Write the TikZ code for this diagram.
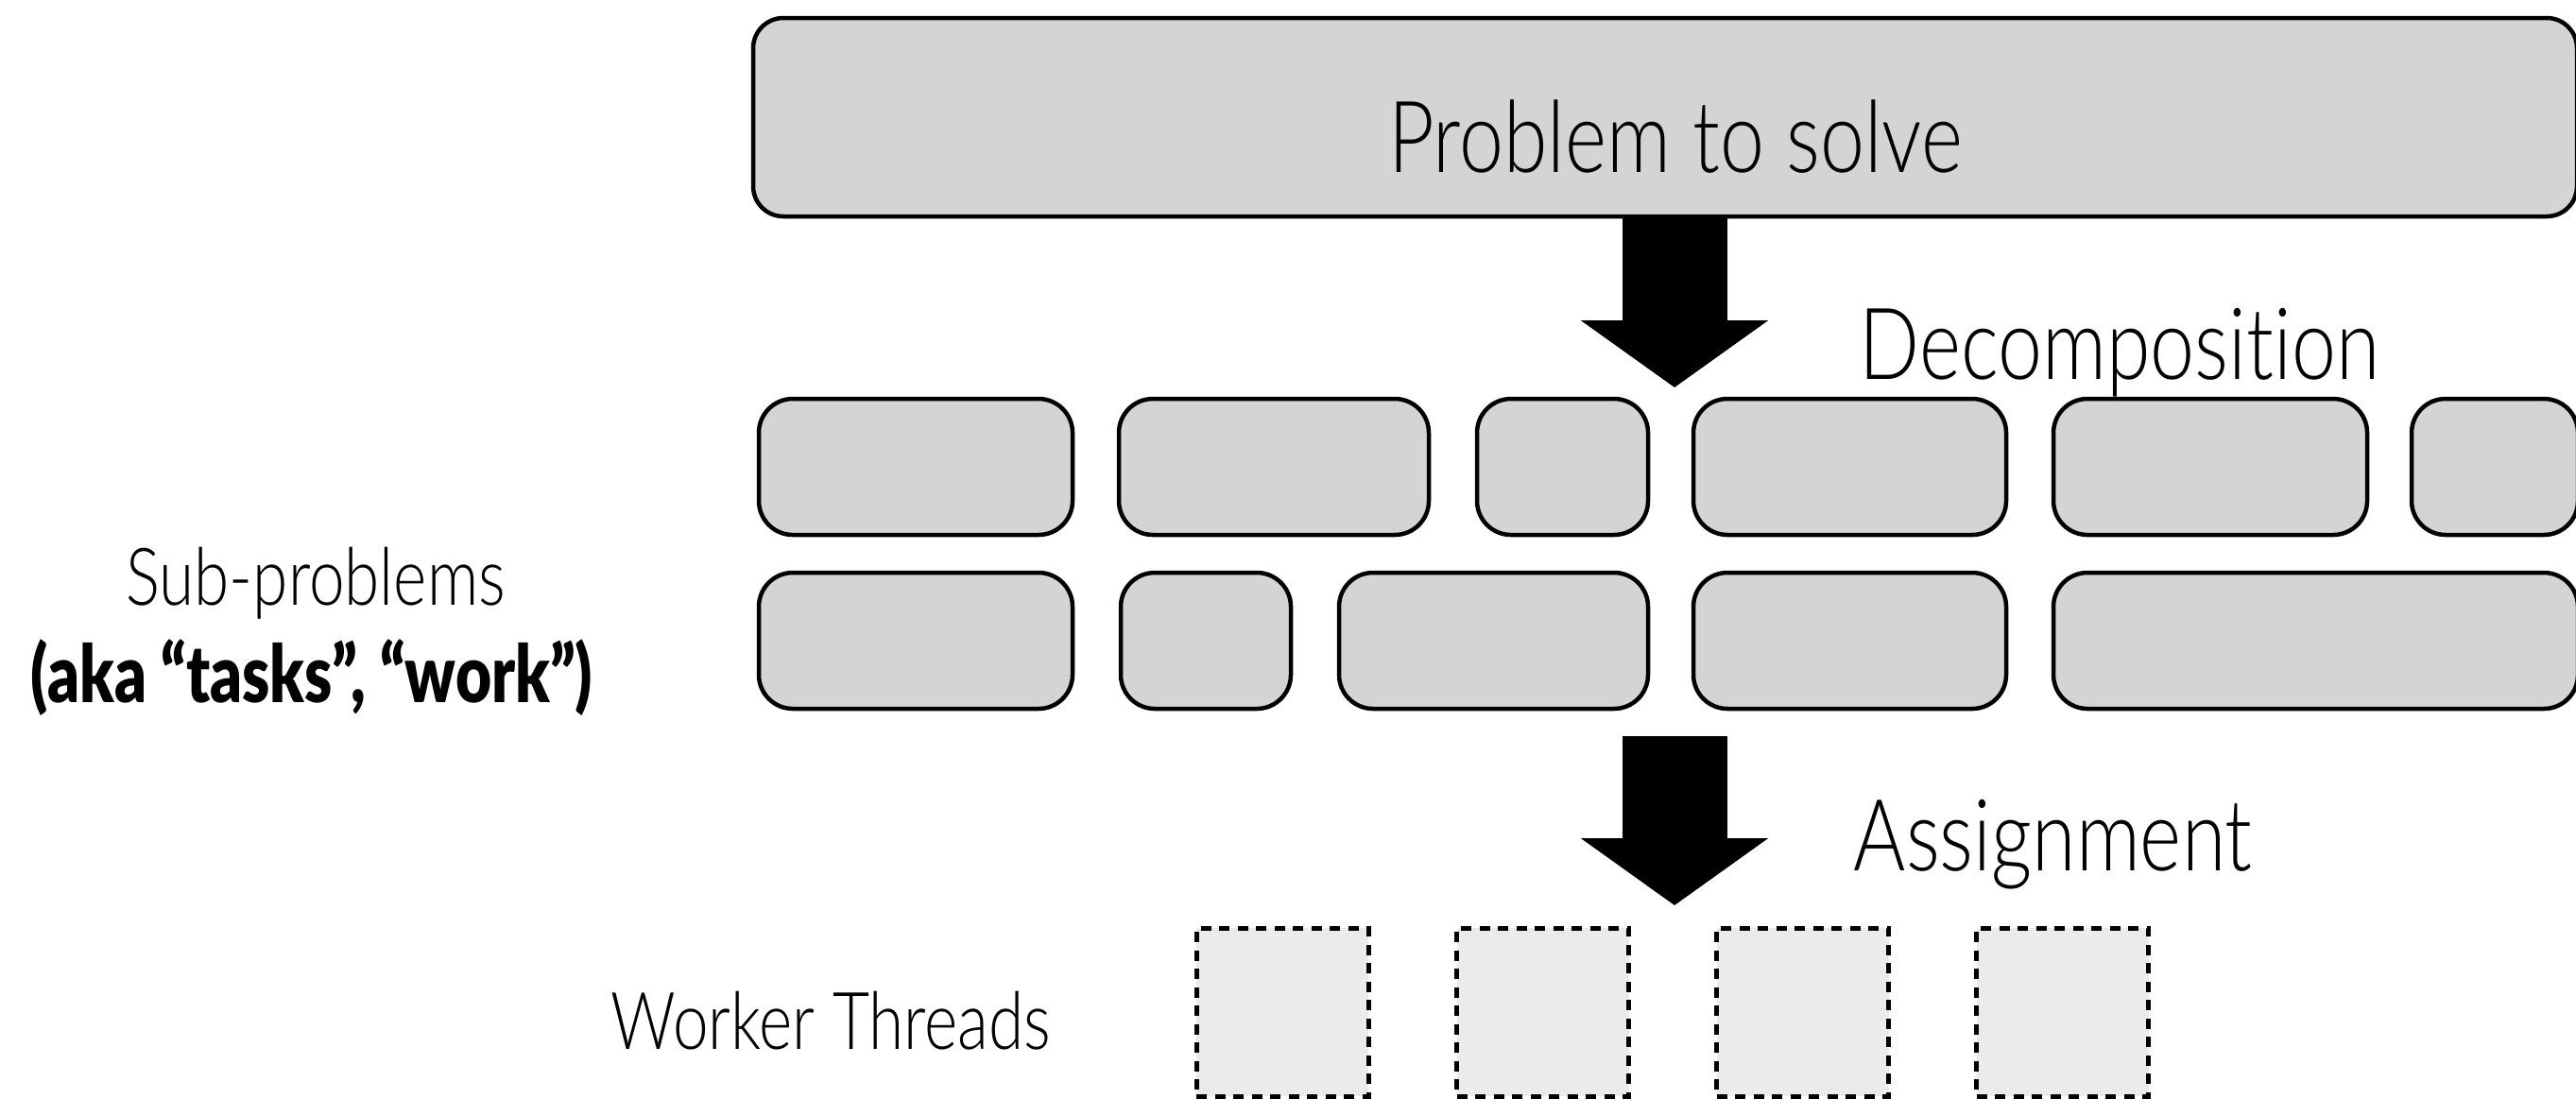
\documentclass[tikz,border=0pt]{standalone}
\usepackage{fontspec}
\usepackage{tikz}
\usetikzlibrary{arrows.meta,calc,positioning}
\IfFontExistsTF{Lato Light}
  {\newfontfamily\thinfont{Lato Light}[FakeStretch=0.8, Ligatures=NoCommon]}
  {\newfontfamily\thinfont{Lato}[FakeStretch=0.8, Ligatures=NoCommon]}
\IfFontExistsTF{Lato Black}
  {\newfontfamily\heavyfont{Lato Black}[FakeStretch=0.78]}
  {\newfontfamily\heavyfont{Lato}[UprightFont=* Bold, FakeStretch=0.82]}
\definecolor{taskgray}{RGB}{212,212,212}
\definecolor{workergray}{RGB}{235,235,235}

\begin{document}
\begin{tikzpicture}[x=1cm,y=1cm,
    task/.style={draw=black, line width=0.045cm, fill=taskgray, rounded corners=0.36cm,
      inner sep=0pt, minimum height=1.44cm},
    worker/.style={draw=black, line width=0.05cm, dash pattern=on 0.11cm off 0.085cm,
      fill=workergray, inner sep=0pt, minimum width=1.82cm, minimum height=1.78cm},
    bigarrow/.style={line width=1.11cm, -{Triangle[width=1.95cm,length=0.71cm]}},
    biglbl/.style={inner sep=0pt, font=\thinfont\fontsize{30}{36}\selectfont},
    sidelbl/.style={inner sep=0pt, font=\thinfont\fontsize{24}{29}\selectfont}]
        \def\rowa{-4.94}
        \def\rowb{-6.78}
        \def\ax{17.72}
        \useasboundingbox (0,0) rectangle (27.26,-11.62);
        \clip (0,0) rectangle (27.26,-11.62);
        %Problem box
        \node[task, rounded corners=0.32cm, minimum width=19.30cm, minimum height=2.10cm] (prob) at (17.62,-1.24) {};
        \node[biglbl, anchor=base] (probtext) at (17.73,-1.82) {Problem to solve};
        %Sub-problems
        \foreach \cx/\w [count=\i] in {9.69/3.32, 13.48/3.28, 16.535/1.81, 19.575/3.31, 23.39/3.32, 26.40/1.76}
          \node[task, minimum width=\w cm] (ta\i) at (\cx,\rowa) {};
        \foreach \cx/\w [count=\i] in {9.69/3.32, 12.76/1.80, 15.805/3.27, 19.575/3.31, 24.505/5.55}
          \node[task, minimum width=\w cm] (tb\i) at (\cx,\rowb) {};
        %Worker threads
        \foreach \cx [count=\i] in {13.57, 16.325, 19.075, 21.825}
          \node[worker] (w\i) at (\cx,-10.71) {};
        %Arrows
        \coordinate (dtip) at (\ax,-4.10);
        \coordinate (astart) at (\ax,-7.79);
        \coordinate (atip) at (\ax,-9.58);
        \draw[bigarrow] (prob.south -| dtip) -- (dtip);
        \draw[bigarrow] (astart) -- (atip);
        %Labels
        \node[biglbl, anchor=base west] (decomp) at (19.67,-4.01) {Decomposition};
        \node[biglbl, anchor=base west] (assign) at (19.61,-9.21) {Assignment};
        \node[sidelbl, anchor=base] (subp) at (3.34,-6.40) {Sub-problems};
        \node[sidelbl, font=\heavyfont\fontsize{24}{29}\selectfont, anchor=base] (aka) at (3.30,-7.43) {(aka “tasks”, “work”)};
        \node[sidelbl, anchor=base east] (wt) at (11.13,-11.10) {Worker Threads};
\end{tikzpicture}
\end{document}
